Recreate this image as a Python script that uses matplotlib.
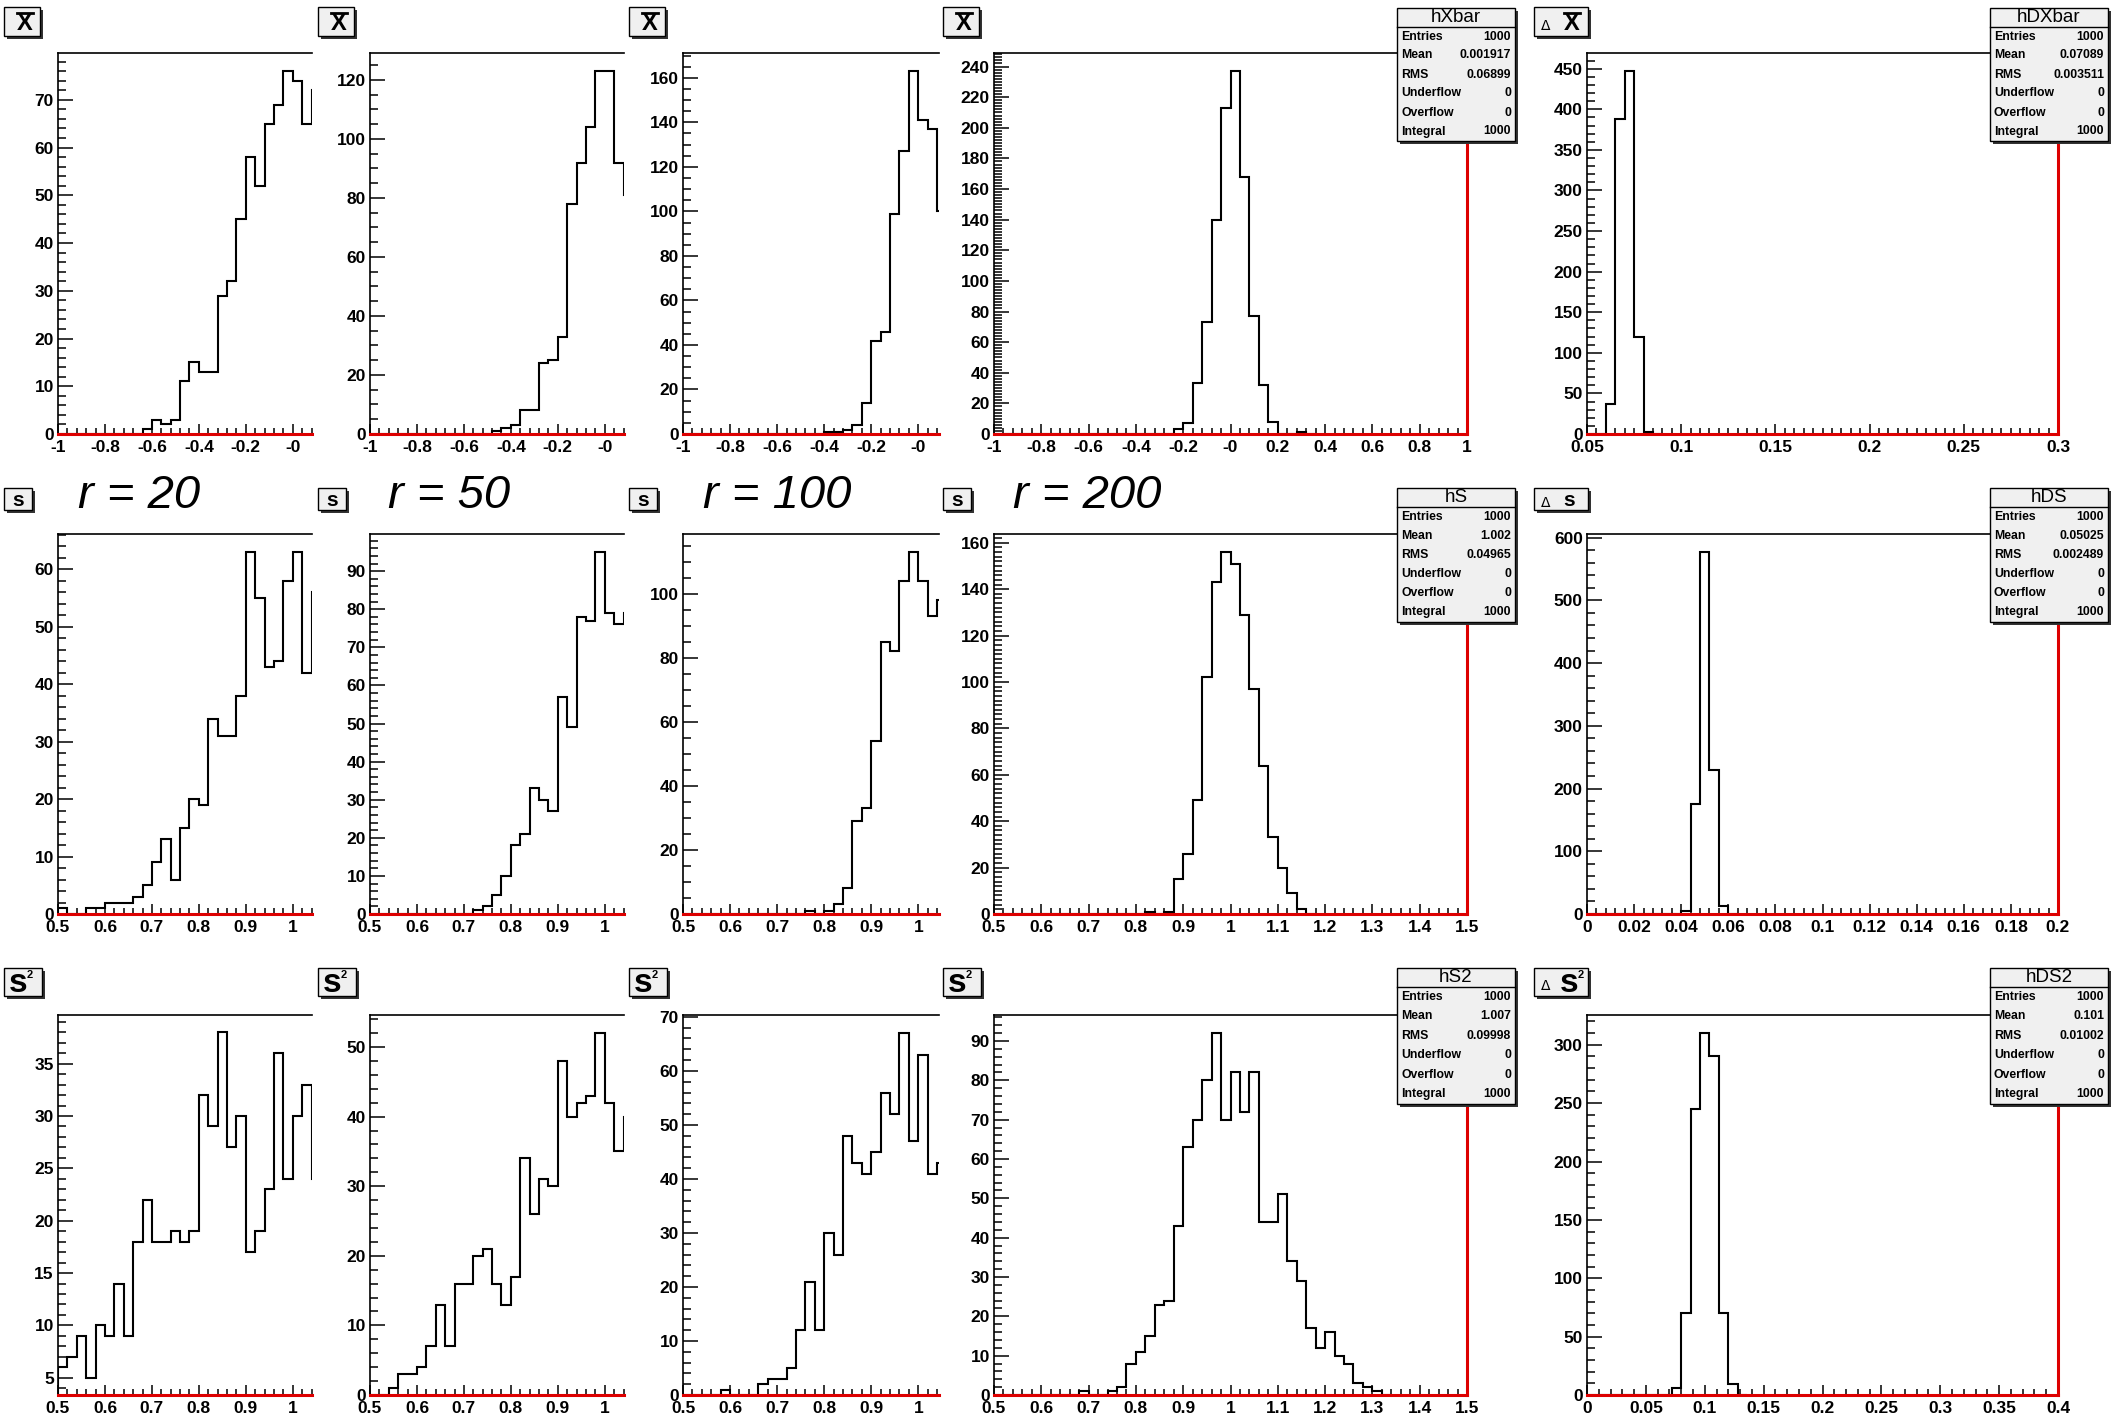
import numpy as np
import matplotlib
matplotlib.use('Agg')
import matplotlib.pyplot as plt
from matplotlib.patches import Rectangle
from matplotlib.lines import Line2D
from matplotlib.ticker import FixedLocator, MultipleLocator, FuncFormatter

W, H = 2112, 1418
plt.rcParams['font.family'] = ['Liberation Sans', 'DejaVu Sans']
plt.rcParams['font.weight'] = 'bold'

# ---------------- data (bin contents, starting at histogram low edge) ----------------
# row 1 : sample mean  (range -1..1, bin 0.04) ; Delta Xbar (0.05..0.3, bin 0.005)
xbar_r20 = [0, 0, 0, 0, 0, 0, 0, 0, 0, 1, 3, 2, 3, 11, 15, 13, 13, 29, 32, 45,
            58, 52, 65, 69, 76, 74, 65, 72]
xbar_r50 = [0, 0, 0, 0, 0, 0, 0, 0, 0, 0, 0, 0, 0, 1, 2, 3, 8, 8, 24, 25,
            33, 78, 92, 104, 123, 123, 92, 81]
xbar_r100 = [0, 0, 0, 0, 0, 0, 0, 0, 0, 0, 0, 0, 0, 0, 0, 1, 1, 2, 4, 14,
             42, 46, 99, 127, 163, 141, 137, 100]
xbar_r200 = [0, 0, 0, 0, 0, 0, 0, 0, 0, 0, 0, 0, 0, 0, 0, 0, 0, 0, 0, 3,
             7, 33, 73, 140, 213, 237, 168, 77, 32, 8, 0, 0, 1, 0]
dxbar = [0, 0, 37, 388, 447, 119, 2, 0]

# row 2 : sample std dev s (0.5..1.5, bin 0.02) ; Delta s (0..0.2, bin 0.004)
s_r20 = [1, 0, 0, 1, 1, 2, 2, 2, 3, 5, 9, 13, 6, 15, 20, 19, 34, 31, 31, 38,
         63, 55, 43, 44, 58, 63, 42, 56]
s_r50 = [0, 0, 0, 0, 0, 0, 0, 0, 0, 0, 0, 1, 2, 5, 10, 18, 21, 33, 30, 27,
         57, 49, 78, 77, 95, 79, 76, 79]
s_r100 = [0, 0, 0, 0, 0, 0, 0, 0, 0, 0, 0, 0, 0, 1, 0, 1, 3, 8, 29, 33,
          54, 85, 82, 104, 113, 104, 93, 98]
s_r200 = [0, 0, 0, 0, 0, 0, 0, 0, 0, 0, 0, 0, 0, 0, 0, 0, 1, 0, 1, 15,
          26, 49, 102, 143, 156, 151, 129, 97, 64, 33, 20, 9, 2, 0]
ds = [0, 0, 0, 0, 0, 0, 0, 0, 0, 0, 5, 175, 577, 230, 13, 0]

# row 3 : sample variance s^2 (0.5..1.5, bin 0.02) ; Delta s^2 (0..0.4, bin 0.008)
s2_r20 = [6, 7, 9, 5, 10, 9, 14, 9, 18, 22, 18, 18, 19, 18, 19, 32, 29, 38, 27, 30,
          17, 19, 23, 36, 24, 30, 33, 24]
s2_r50 = [0, 0, 1, 3, 3, 4, 7, 13, 7, 16, 16, 20, 21, 16, 13, 17, 34, 26, 31, 30,
          48, 40, 42, 43, 52, 42, 35, 40]
s2_r100 = [0, 0, 0, 0, 1, 0, 0, 0, 2, 3, 3, 5, 12, 21, 12, 30, 26, 48, 43, 41,
           45, 56, 52, 67, 47, 63, 41, 43]
s2_r200 = [0, 0, 0, 0, 0, 0, 0, 0, 0, 1, 0, 0, 1, 2, 8, 11, 15, 23, 24, 43,
           63, 70, 80, 92, 70, 82, 72, 82, 44, 44, 51, 34, 29, 17, 12, 16, 10, 8, 3, 2,
           1, 0]
ds2 = [0, 0, 0, 0, 0, 0, 0, 0, 0, 6, 70, 245, 310, 290, 70, 9, 0]

hist_lo = [[-1.0, -1.0, -1.0, -1.0, 0.05],
           [0.5, 0.5, 0.5, 0.5, 0.0],
           [0.5, 0.5, 0.5, 0.5, 0.0]]
hist_bw = [[0.04, 0.04, 0.04, 0.04, 0.005],
           [0.02, 0.02, 0.02, 0.02, 0.004],
           [0.02, 0.02, 0.02, 0.02, 0.008]]
hist_vals = [[xbar_r20, xbar_r50, xbar_r100, xbar_r200, dxbar],
             [s_r20, s_r50, s_r100, s_r200, ds],
             [s2_r20, s2_r50, s2_r100, s2_r200, ds2]]
hist_hi = [[1.0, 1.0, 1.0, 1.0, 0.3],
           [1.5, 1.5, 1.5, 1.5, 0.2],
           [1.5, 1.5, 1.5, 1.5, 0.4]]

r_labels = ['r = 20', 'r = 50', 'r = 100', 'r = 200']

stat_names = ['hXbar', 'hDXbar', 'hS', 'hDS', 'hS2', 'hDS2']
stat_mean = ['0.001917', '0.07089', '1.002', '0.05025', '1.007', '0.101']
stat_rms = ['0.06899', '0.003511', '0.04965', '0.002489', '0.09998', '0.01002']
stat_entries = '1000'

xtick_vals = [
    [[-1, -0.8, -0.6, -0.4, -0.2, 0], [-1, -0.8, -0.6, -0.4, -0.2, 0, 0.2, 0.4, 0.6, 0.8, 1],
     [0.05, 0.1, 0.15, 0.2, 0.25, 0.3]],
    [[0.5, 0.6, 0.7, 0.8, 0.9, 1.0], [0.5, 0.6, 0.7, 0.8, 0.9, 1.0, 1.1, 1.2, 1.3, 1.4, 1.5],
     [0, 0.02, 0.04, 0.06, 0.08, 0.1, 0.12, 0.14, 0.16, 0.18, 0.2]],
    [[0.5, 0.6, 0.7, 0.8, 0.9, 1.0], [0.5, 0.6, 0.7, 0.8, 0.9, 1.0, 1.1, 1.2, 1.3, 1.4, 1.5],
     [0, 0.05, 0.1, 0.15, 0.2, 0.25, 0.3, 0.35, 0.4]],
]
xtick_labs = [
    [['-1', '-0.8', '-0.6', '-0.4', '-0.2', '-0'],
     ['-1', '-0.8', '-0.6', '-0.4', '-0.2', '-0', '0.2', '0.4', '0.6', '0.8', '1'],
     ['0.05', '0.1', '0.15', '0.2', '0.25', '0.3']],
    [['0.5', '0.6', '0.7', '0.8', '0.9', '1'],
     ['0.5', '0.6', '0.7', '0.8', '0.9', '1', '1.1', '1.2', '1.3', '1.4', '1.5'],
     ['0', '0.02', '0.04', '0.06', '0.08', '0.1', '0.12', '0.14', '0.16', '0.18', '0.2']],
    [['0.5', '0.6', '0.7', '0.8', '0.9', '1'],
     ['0.5', '0.6', '0.7', '0.8', '0.9', '1', '1.1', '1.2', '1.3', '1.4', '1.5'],
     ['0', '0.05', '0.1', '0.15', '0.2', '0.25', '0.3', '0.35', '0.4']],
]

# ---------------- layout (pixels) ----------------
fig = plt.figure(figsize=(W / 100, H / 100), dpi=100)
fig.patch.set_facecolor('white')


def fx(x):
    return x / W


def fy(y):
    return 1 - y / H


col_px = [(58, 312), (370, 624), (683, 939), (994, 1467), (1587, 2058)]
row_px = [(53, 434), (534, 914), (1015, 1395)]
clip_right = [[0.082, 0.082, 0.088], [1.041, 1.041, 1.044], [1.041, 1.041, 1.044]]
x_minor = [[0.04, 0.04, 0.04, 0.04, 0.005],
           [0.02, 0.02, 0.02, 0.02, 0.004],
           [0.02, 0.02, 0.02, 0.02, 0.01]]
y_major = [[10, 20, 20, 20, 50], [10, 10, 20, 20, 100], [5, 10, 10, 10, 50]]
y_minor = [[2, 5, 5, 2, 10], [2, 2, 5, 2, 20], [1, 2, 2, 2, 10]]

for r in range(3):
    t, b = row_px[r]
    for c in range(5):
        l, rr = col_px[c]
        ax = fig.add_axes([fx(l), fy(b), (rr - l) / W, (b - t) / H])
        vals = np.array(hist_vals[r][c], dtype=float)
        lo = hist_lo[r][c]
        bw = hist_bw[r][c]
        edges = lo + bw * np.arange(len(vals) + 1)
        ax.stairs(vals, edges, baseline=0, fill=False, color='black', lw=1.5)
        hmax, hmin = vals.max(), vals.min()
        if hmin > 0:
            dy = 0.05 * (hmax - hmin)
            ax.set_ylim(hmin - dy, hmax + dy)
        else:
            ax.set_ylim(0, 1.05 * hmax)
        if c < 3:
            ax.set_xlim(lo, clip_right[r][c])
        else:
            ax.set_xlim(lo, hist_hi[r][c])
        ti = 0 if c < 3 else (1 if c == 3 else 2)
        ax.xaxis.set_major_locator(FixedLocator(xtick_vals[r][ti]))
        ax.set_xticklabels(xtick_labs[r][ti])
        ax.xaxis.set_minor_locator(MultipleLocator(x_minor[r][c]))
        ax.yaxis.set_major_locator(MultipleLocator(y_major[r][c]))
        ax.yaxis.set_minor_locator(MultipleLocator(y_minor[r][c]))
        ax.yaxis.set_major_formatter(FuncFormatter(lambda v, p: f'{v:g}'))
        ax.tick_params(axis='both', which='both', direction='in', top=False, right=False,
                       labelsize=12.5, width=1.1, color='black')
        ax.tick_params(axis='y', which='major', length=11, pad=3)
        ax.tick_params(axis='y', which='minor', length=6)
        ax.tick_params(axis='x', which='major', length=7, pad=4)
        ax.tick_params(axis='x', which='minor', length=4)
        ax.spines['top'].set(color='black', lw=1.2)
        ax.spines['left'].set(color='black', lw=1.2)
        ax.spines['bottom'].set(color='#dd0000', lw=2.2, zorder=3)
        if c >= 3:
            ax.spines['right'].set(color='#dd0000', lw=2.2)
        else:
            ax.spines['right'].set_visible(False)
        ax.set_facecolor('none')


def box(x0, y0, x1, y1, z=10):
    fig.add_artist(Rectangle((fx(x0 + 3), fy(y1 + 3)), (x1 - x0) / W, (y1 - y0) / H,
                             transform=fig.transFigure, facecolor='#333333',
                             edgecolor='none', zorder=z))
    fig.add_artist(Rectangle((fx(x0), fy(y1)), (x1 - x0) / W, (y1 - y0) / H,
                             transform=fig.transFigure, facecolor='#f0f0f0',
                             edgecolor='black', lw=1.0, zorder=z + 1))


def hline(x0, x1, y, lw=1.0, z=12):
    fig.add_artist(Line2D([fx(x0), fx(x1)], [fy(y), fy(y)], transform=fig.transFigure,
                          color='black', lw=lw, zorder=z))


# ---------------- title boxes ----------------
box_left = [4, 318, 629, 943, 1534]
title_rows = [(7, 36), (488, 510), (968, 996)]
for c in range(5):
    x0 = box_left[c]
    delta = c == 4
    for r in range(3):
        y0, y1 = title_rows[r]
        w = 54 if delta else (36 if r == 0 else (28 if r == 1 else 38))
        box(x0, y0, x0 + w, y1)
        xs = x0 + (31 if delta else 0)
        if delta:
            fig.text(fx(x0 + 12), fy((y0 + y1) / 2 + 4), '\u0394', fontsize=10,
                     fontweight='normal', ha='center', va='center', zorder=13,
                     family=['DejaVu Sans'])
        if r == 0:
            cx = xs + (7 if delta else 21)
            fig.text(fx(cx), fy(24), 'X', fontsize=17, ha='center', va='center', zorder=13)
            hline(cx - 8, cx + 8, 13, lw=2.0, z=13)
        elif r == 1:
            cx = xs + (4 if delta else 14)
            fig.text(fx(cx), fy(500), 's', fontsize=15, ha='center', va='center', zorder=13)
        else:
            cx = xs + (4 if delta else 14)
            fig.text(fx(cx), fy(984), 's', fontsize=24, ha='center', va='center', zorder=13)
            fig.text(fx(cx + 12), fy(975), '2', fontsize=8, ha='center', va='center', zorder=13)

# ---------------- r labels ----------------
r_label_x = [78, 388, 703, 1013]
for i, lab in enumerate(r_labels):
    fig.text(fx(r_label_x[i]), fy(508), lab, fontsize=34, fontstyle='italic',
             fontweight='normal', ha='left', va='baseline')

# ---------------- stats boxes ----------------
stat_cols = [(1397, 1515), (1990, 2108)]
stat_rows = [(8, 141), (488, 622), (968, 1104)]
row_names = ['Entries', 'Mean', 'RMS', 'Underflow', 'Overflow', 'Integral']
k = 0
for r in range(3):
    y0, y1 = stat_rows[r]
    for c in range(2):
        x0, x1 = stat_cols[c]
        box(x0, y0, x1, y1, z=20)
        hline(x0, x1, y0 + 19, lw=1.0, z=22)
        fig.text(fx((x0 + x1) / 2), fy(y0 + 10), stat_names[k], fontsize=13.5,
                 fontweight='normal', ha='center', va='center', zorder=23)
        vals_txt = [stat_entries, stat_mean[k], stat_rms[k], '0', '0', stat_entries]
        rh = (y1 - (y0 + 19)) / 6.0
        for i in range(6):
            yy = y0 + 19 + rh * (i + 0.5)
            fig.text(fx(x0 + 4), fy(yy), row_names[i], fontsize=8.8, ha='left',
                     va='center', zorder=23)
            fig.text(fx(x1 - 4), fy(yy), vals_txt[i], fontsize=8.8, ha='right',
                     va='center', zorder=23)
        k += 1

fig.savefig('out.png', dpi=100)
